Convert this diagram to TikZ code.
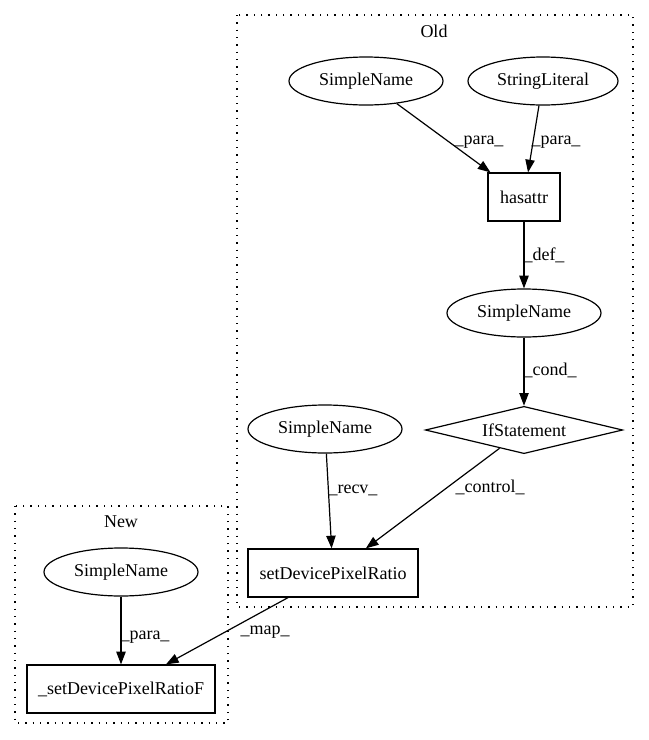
\documentclass[tikz,border=0pt]{standalone}
\usepackage{fontspec}
\setmainfont{Liberation Serif}
\usetikzlibrary{shapes.geometric,arrows.meta}
\begin{document}
\begin{tikzpicture}[x=0.75pt,y=-0.75pt,
  every node/.style={font=\fontsize{13.5}{16}\selectfont, text=black},
  ell/.style={draw, line width=0.9pt, ellipse, inner sep=0pt, minimum width=115.5pt, minimum height=36pt},
  boxn/.style={draw, line width=0.9pt, rectangle, inner sep=0pt, minimum height=36pt},
  dia/.style={draw, line width=0.9pt, diamond, aspect=4.2, inner sep=1pt, minimum width=148pt, minimum height=35.5pt},
  cluster/.style={draw, line width=0.9pt, dash pattern=on 1pt off 4.5pt},
  edge/.style={draw, line width=0.9pt, -{Triangle[length=9.5pt,width=7pt]}},
  elabel/.style={inner sep=0pt}
]
\useasboundingbox (0,0) rectangle (649,740);
% clusters
\draw[cluster] (237,15) rectangle (633,607);
\node (oldlabel) at (434,31) {Old};
\draw[cluster] (15,506) rectangle (228,723);
\node (newlabel) at (121,522) {New};
% nodes
\node[ell] (sn1) at (366,81) {SimpleName};
\node[ell, minimum width=112.5pt] (sl) at (543,81) {StringLiteral};
\node[boxn, minimum width=54pt] (has) at (524,197) {hasattr};
\node[ell] (sn2) at (524,313) {SimpleName};
\node[dia] (ifs) at (524,430) {IfStatement};
\node[ell] (sn3) at (325,429) {SimpleName};
\node[boxn, minimum width=127.5pt] (sdpr) at (333,573) {setDevicePixelRatio};
\node[ell] (sn4) at (121,572) {SimpleName};
\node[boxn, minimum width=141pt] (sdprf) at (121,689) {\_setDevicePixelRatioF};
% edges
\draw[edge] (sn1) -- (has);
\draw[edge] (sl) -- (has);
\draw[edge] (has) -- (sn2);
\draw[edge] (sn2) -- (ifs);
\draw[edge] (sn3) -- (sdpr);
\draw[edge] (ifs) -- (sdpr);
\draw[edge] (sdpr) -- (sdprf);
\draw[edge] (sn4) -- (sdprf);
% edge labels
\node[elabel] (l1) at (479,142) {\_para\_};
\node[elabel] (l2) at (556,142) {\_para\_};
\node[elabel] (l3) at (544,255) {\_def\_};
\node[elabel] (l4) at (550,370) {\_cond\_};
\node[elabel] (l5) at (353,490) {\_recv\_};
\node[elabel] (l6) at (490,487) {\_control\_};
\node[elabel] (l7) at (265,632) {\_map\_};
\node[elabel] (l8) at (145,637) {\_para\_};
\end{tikzpicture}
\end{document}
